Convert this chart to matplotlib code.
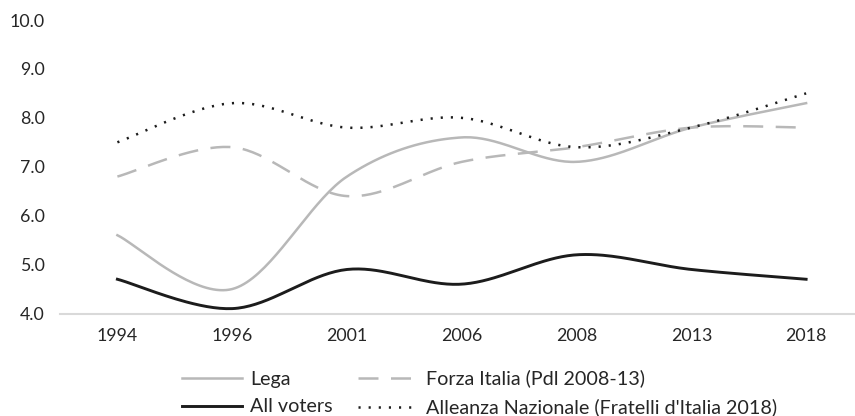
import numpy as np
import matplotlib
matplotlib.use("Agg")
import matplotlib.pyplot as plt

plt.rcParams['font.family'] = ['Lato', 'DejaVu Sans']

# data
years = ["1994", "1996", "2001", "2006", "2008", "2013", "2018"]
lega = [5.6, 4.5, 6.8, 7.6, 7.1, 7.8, 8.3]
forza_italia = [6.8, 7.4, 6.4, 7.1, 7.4, 7.8, 7.8]
alleanza = [7.5, 8.3, 7.8, 8.0, 7.4, 7.8, 8.5]
all_voters = [4.7, 4.1, 4.9, 4.6, 5.2, 4.9, 4.7]
y_ticks = [4.0, 5.0, 6.0, 7.0, 8.0, 9.0, 10.0]

labels = ["Lega", "All voters", "Forza Italia (Pdl 2008-13)",
          "Alleanza Nazionale (Fratelli d'Italia 2018)"]

DPI = 100
PX = DPI / 72.0  # pixels per point


def smooth(y, n=40):
    # catmull-rom style curve through the points, like excel's smoothed line
    y = np.asarray(y, float)
    x = np.arange(len(y), dtype=float)
    px = np.concatenate([[x[0]], x, [x[-1]]])
    py = np.concatenate([[y[0]], y, [y[-1]]])
    xs, ys = [], []
    t = np.linspace(0, 1, n)
    for i in range(1, len(px) - 2):
        p0, p1, p2, p3 = [np.array([px[j], py[j]]) for j in range(i - 1, i + 3)]
        c1 = p1 + (p2 - p0) / 6
        c2 = p2 - (p3 - p1) / 6
        b = ((1 - t) ** 3)[:, None] * p1 + (3 * (1 - t) ** 2 * t)[:, None] * c1 \
            + (3 * (1 - t) * t ** 2)[:, None] * c2 + (t ** 3)[:, None] * p2
        xs.append(b[:, 0])
        ys.append(b[:, 1])
    return np.concatenate(xs), np.concatenate(ys)


fig = plt.figure(figsize=(8.55, 4.16), dpi=DPI)
renderer = fig.canvas.get_renderer()


def text_size(s, fs):
    t = fig.text(0, 0, s, fontsize=fs)
    bb = t.get_window_extent(renderer)
    t.remove()
    return bb.width, bb.height


# font sizes picked so text widths match the picture (1994 ~41px, longest legend entry ~350px)
tick_fs = 12 * 41 / text_size("1994", 12)[0]
leg_fs = 12 * 350 / text_size(labels[3], 12)[0]

ax = fig.add_axes([60 / 855, 1 - 313.5 / 416, 803.5 / 855, 293.5 / 416])

x, y = smooth(lega)
l1, = ax.plot(x, y, color="#b8b8b8", lw=1.8, label=labels[0])
x, y = smooth(all_voters)
l2, = ax.plot(x, y, color="#1c1c1c", lw=2.1, label=labels[1])
x, y = smooth(forza_italia)
l3, = ax.plot(x, y, color="#b8b8b8", lw=1.8, ls=(0, (8, 5)), label=labels[2])
x, y = smooth(alleanza)
l4, = ax.plot(x, y, color="#1c1c1c", lw=1.8, ls=(0, (0.85, 3.2)), dash_capstyle="butt",
              label=labels[3])

ax.set_xlim(-0.5, len(years) - 0.5)
ax.set_ylim(4.0, 10.0)
ax.set_xticks(range(len(years)))
ax.set_xticklabels(years)
ax.set_yticks(y_ticks)
ax.set_yticklabels([f"{v:.1f}" for v in y_ticks])
ax.tick_params(length=0, labelsize=tick_fs, colors="#262626")
ax.tick_params(axis="y", pad=15 / PX)
th = text_size("1994", tick_fs)[1]
ax.tick_params(axis="x", pad=max(0, 336 - 313.5 - th / 2) / PX)
for s in ["top", "right", "left"]:
    ax.spines[s].set_visible(False)
ax.spines["bottom"].set_color("#d9d9d9")
ax.spines["bottom"].set_linewidth(1.5)

# legend geometry from the picture, in pixels
fpx = leg_fs * PX
w_all, h_row = text_size(labels[1], leg_fs)
col_gap = 359 - (251 + w_all)
fig.legend(handles=[l1, l2, l3, l4], ncol=2, frameon=False, fontsize=leg_fs,
           loc="center left", bbox_to_anchor=(182 / 855, 1 - 393 / 416),
           borderpad=0, borderaxespad=0, handlelength=60 / fpx,
           handletextpad=8 / fpx, columnspacing=col_gap / fpx,
           labelspacing=max(0, 28 - h_row) / fpx, labelcolor="#262626")

fig.savefig("out.png", dpi=DPI)
